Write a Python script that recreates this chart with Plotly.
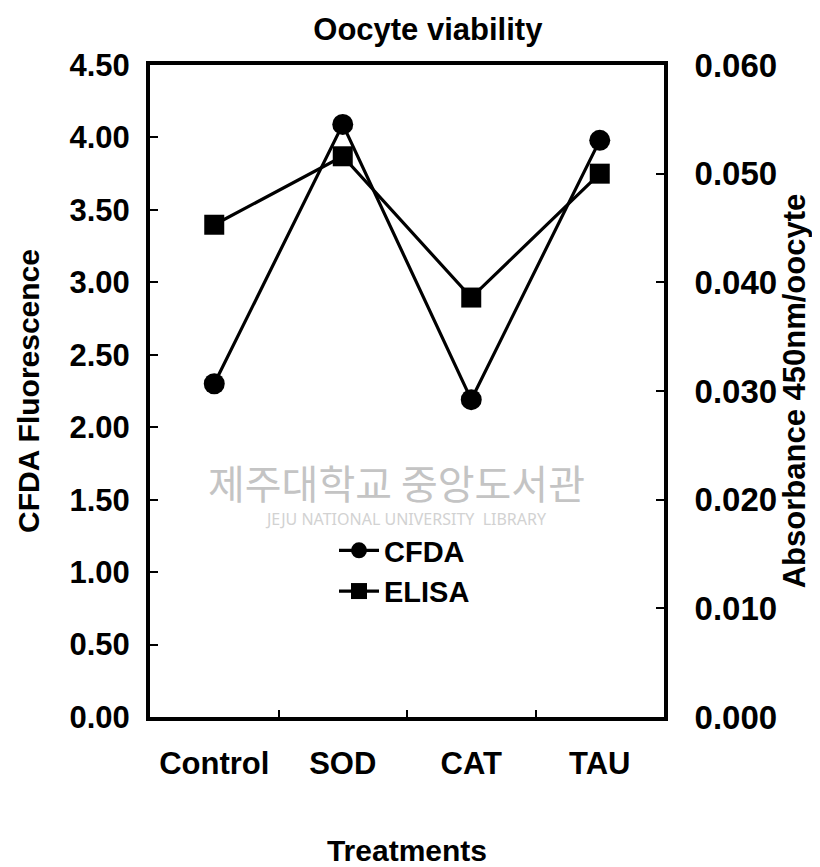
import plotly.graph_objects as go

categories = ["Control", "SOD", "CAT", "TAU"]
cfda = [2.30, 4.09, 2.19, 3.98]
elisa = [0.0453, 0.0516, 0.0386, 0.0500]

left_ticks = [0.0, 0.5, 1.0, 1.5, 2.0, 2.5, 3.0, 3.5, 4.0, 4.5]
right_ticks = [0.000, 0.010, 0.020, 0.030, 0.040, 0.050, 0.060]

FONT = "Liberation Sans, Arial, sans-serif"
L, R, T, B = 142, 164, 57, 158
W, H = 820, 867
PW, PH = W - L - R, H - T - B


def px(x):
    return (x - L) / PW


def py(y):
    return (H - B - y) / PH


fig = go.Figure()
fig.add_trace(go.Scatter(
    x=categories, y=cfda, name="CFDA", mode="lines+markers",
    line=dict(color="black", width=3.2),
    marker=dict(symbol="circle", size=21, color="black"),
    yaxis="y"))
fig.add_trace(go.Scatter(
    x=categories, y=elisa, name="ELISA", mode="lines+markers",
    line=dict(color="black", width=3.2),
    marker=dict(symbol="square", size=20, color="black"),
    yaxis="y2"))

fig.update_layout(
    width=W, height=H,
    margin=dict(l=L, r=R, t=T, b=B, autoexpand=False),
    paper_bgcolor="white", plot_bgcolor="white",
    font=dict(family=FONT, size=28, color="black"),
    showlegend=True,
    legend=dict(x=px(326), y=py(517), xanchor="left", yanchor="top",
                bgcolor="rgba(0,0,0,0)",
                font=dict(family=FONT, size=29, color="black", weight="bold"),
                itemwidth=40, tracegroupgap=4),
    title=dict(text="<b>Oocyte viability</b>", x=0.512, y=1 - 21/867,
               xref="container", yref="container",
               xanchor="center", yanchor="middle",
               font=dict(family=FONT, size=31, color="black")),
    xaxis=dict(
        type="category", categoryorder="array", categoryarray=categories,
        range=[-0.5, 3.5], showline=True, linecolor="black", linewidth=4,
        mirror=True, ticks="inside", ticklen=7, tickwidth=1.5,
        tickcolor="black", tickson="boundaries", showgrid=False,
        zeroline=False, ticklabelstandoff=16, automargin=False,
        tickfont=dict(family=FONT, size=31, color="black", weight="bold"),
        title=dict(text="<b>Treatments</b>", standoff=61,
                   font=dict(family=FONT, size=30, color="black"))),
    yaxis=dict(
        range=[0, 4.5], tickvals=left_ticks, tickformat=".2f",
        showline=True, linecolor="black", linewidth=4,
        ticks="inside", ticklen=8, tickwidth=1.5, tickcolor="black",
        showgrid=False, zeroline=False, ticklabelstandoff=10,
        automargin=False,
        tickfont=dict(family=FONT, size=31, color="black", weight="bold"),
        title=dict(text="<b>CFDA Fluorescence</b>", standoff=22,
                   font=dict(family=FONT, size=30, color="black"))),
    yaxis2=dict(
        range=[0, 0.06], tickvals=right_ticks, tickformat=".3f",
        overlaying="y", side="right",
        showline=True, linecolor="black", linewidth=4,
        ticks="inside", ticklen=8, tickwidth=1.5, tickcolor="black",
        showgrid=False, zeroline=False, ticklabelstandoff=20,
        automargin=False,
        tickfont=dict(family=FONT, size=33, color="black", weight="bold"),
        title=dict(text="<b>Absorbance 450nm/oocyte</b>", standoff=6,
                   font=dict(family=FONT, size=31, color="black"))),
)

# faint library watermark
fig.add_annotation(text="제주대학교 중앙도서관", x=px(388), y=py(474),
                   xref="paper", yref="paper", showarrow=False,
                   xanchor="center", yanchor="middle",
                   font=dict(family="Noto Sans CJK KR", size=40, color="#c4c4c4"))
fig.add_annotation(text="JEJU NATIONAL UNIVERSITY  LIBRARY", x=px(398), y=py(511),
                   xref="paper", yref="paper", showarrow=False,
                   xanchor="center", yanchor="middle",
                   font=dict(family="Noto Sans", size=16, color="#d2d2d2"))

fig.write_html("out.html")
